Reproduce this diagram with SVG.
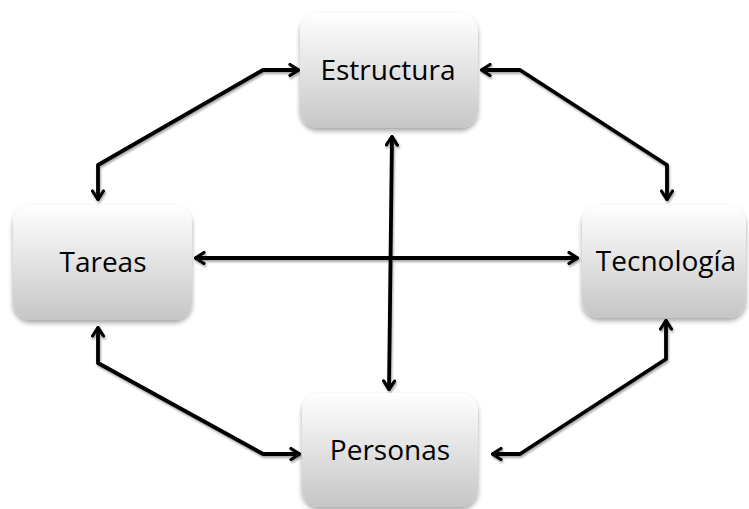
<svg xmlns="http://www.w3.org/2000/svg" width="749" height="509" viewBox="0 0 749 509">
<defs>
<linearGradient id="g" x1="0" y1="0" x2="0" y2="1">
<stop offset="0" stop-color="#ffffff"/>
<stop offset="1" stop-color="#c6c6c6"/>
</linearGradient>
<filter id="sh" x="-20%" y="-20%" width="140%" height="150%">
<feGaussianBlur in="SourceAlpha" stdDeviation="2.5"/>
<feOffset dx="0" dy="3" result="b"/>
<feComponentTransfer><feFuncA type="linear" slope="0.35"/></feComponentTransfer>
<feMerge><feMergeNode/><feMergeNode in="SourceGraphic"/></feMerge>
</filter>
<filter id="lsh" x="-10%" y="-10%" width="120%" height="120%">
<feGaussianBlur in="SourceAlpha" stdDeviation="1.2"/>
<feOffset dx="1" dy="2"/>
<feComponentTransfer><feFuncA type="linear" slope="0.35"/></feComponentTransfer>
<feMerge><feMergeNode/><feMergeNode in="SourceGraphic"/></feMerge>
</filter>
<marker id="a" viewBox="0 0 12 14" refX="11" refY="7" markerWidth="12" markerHeight="14" markerUnits="userSpaceOnUse" orient="auto-start-reverse">
<path d="M2,1.5 L10.5,7 L2,12.5" fill="none" stroke="#000" stroke-width="3.2" stroke-linejoin="miter" stroke-linecap="round"/>
</marker>
</defs>
<style>
.box{fill:url(#g);filter:url(#sh)}
.lbl{font-family:"Open Sans","Noto Sans","Liberation Sans",sans-serif;font-size:28px;fill:#000;text-anchor:middle}
.c{fill:none;stroke:#000;stroke-width:3.8;stroke-linejoin:round;marker-start:url(#a);marker-end:url(#a)}
</style>
<rect width="749" height="509" fill="#fff"/>
<g id="connectors" filter="url(#lsh)">
<path class="c" d="M299,70 L263,70 L98,165 L98,200"/>
<path class="c" d="M481,70 L520,70 L667,165 L667,200"/>
<path class="c" d="M98,327 L98,363 L263,454 L300,454"/>
<path class="c" d="M666,320 L666,359 L520,454 L492,454"/>
<path class="c" d="M195,258 L578,258"/>
<path class="c" d="M392,136 L389,390"/>
</g>
<g id="estructura">
<rect class="box" x="300" y="13" width="178" height="115" rx="18"/>
<text class="lbl" x="388" y="80">Estructura</text>
</g>
<g id="tareas">
<rect class="box" x="13" y="205" width="179" height="115" rx="18"/>
<text class="lbl" x="103" y="272">Tareas</text>
</g>
<g id="tecnologia">
<rect class="box" x="582" y="205" width="164" height="113" rx="18"/>
<text class="lbl" x="666" y="271">Tecnología</text>
</g>
<g id="personas">
<rect class="box" x="302" y="393" width="176" height="114" rx="18"/>
<text class="lbl" x="390" y="460">Personas</text>
</g>
</svg>
